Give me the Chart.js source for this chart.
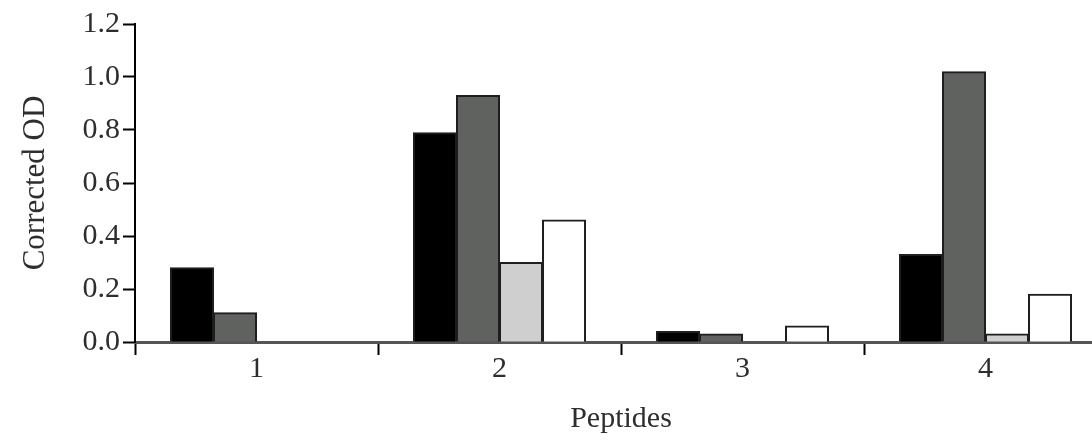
<!DOCTYPE html>
<html>
<head>
<meta charset="utf-8">
<script src="https://cdn.jsdelivr.net/npm/chart.js@4.4.1/dist/chart.umd.min.js"></script>
<style>
  html, body { margin: 0; padding: 0; background: #fff; overflow: hidden; }
  #wrap { width: 1107px; height: 441px; }
</style>
</head>
<body>
<div id="wrap"><canvas id="odChart"></canvas></div>
<script>
// data
const peptides = ['1', '2', '3', '4'];
const blackBars = [0.28, 0.79, 0.04, 0.33];
const darkGreyBars = [0.11, 0.93, 0.03, 1.02];
const lightGreyBars = [null, 0.30, null, 0.03];
const whiteBars = [null, 0.46, 0.06, 0.18];
const yTicks = [0, 0.2, 0.4, 0.6, 0.8, 1.0, 1.2];

const serif = 'Liberation Serif';
const textColor = '#2e2e2e';

function bars(label, values, fill) {
    return {
        label: label,
        data: values,
        backgroundColor: fill,
        borderColor: '#1e1e1e',
        borderWidth: 2,
        inflateAmount: 0.5,
        barPercentage: 1,
        categoryPercentage: 0.708
    };
}

new Chart(document.getElementById('odChart'), {
    type: 'bar',
    data: {
        labels: peptides,
        datasets: [
            bars('A', blackBars, '#000000'),
            bars('B', darkGreyBars, '#60625f'),
            bars('C', lightGreyBars, '#cfcfcf'),
            bars('D', whiteBars, '#ffffff')
        ]
    },
    options: {
        responsive: true,
        maintainAspectRatio: false,
        animation: false,
        layout: { padding: { top: 24, right: 0, left: 0, bottom: 0 } },
        plugins: { legend: { display: false }, tooltip: { enabled: false } },
        scales: {
            x: {
                grid: { offset: true, drawOnChartArea: false, drawTicks: true, tickLength: 13, tickColor: '#000', tickWidth: 2 },
                border: { display: true, color: '#555', width: 3 },
                ticks: { color: textColor, font: { family: serif, size: 30 }, padding: -4 },
                title: { display: true, text: 'Peptides', color: textColor, font: { family: serif, size: 30 }, padding: { top: 0, bottom: 4 } },
                afterFit: (scale) => { scale.height = 99; }
            },
            y: {
                min: 0,
                max: 1.2,
                afterBuildTicks: (scale) => { scale.ticks = yTicks.map(v => ({ value: v })); },
                grid: { drawOnChartArea: false, drawTicks: true, tickLength: 12, tickColor: '#000', tickWidth: 2 },
                border: { display: true, color: '#000', width: 2 },
                ticks: { color: textColor, font: { family: serif, size: 30 }, padding: 3, callback: (v) => Number(v).toFixed(1) },
                title: { display: true, text: 'Corrected OD', color: textColor, font: { family: serif, size: 31 }, padding: { top: 17, bottom: 0 } },
                afterFit: (scale) => { scale.width = 135; }
            }
        }
    }
});
</script>
</body>
</html>
